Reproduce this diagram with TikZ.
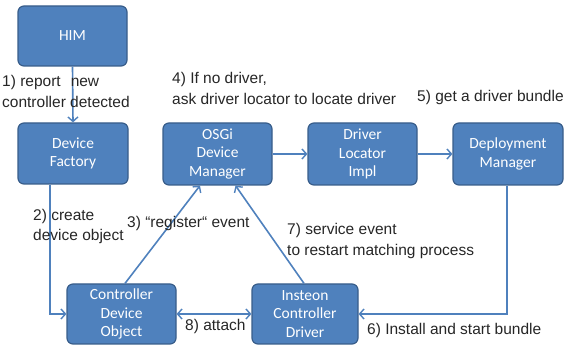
\documentclass[tikz,border=0pt]{standalone}
\usepackage{fontspec}
\setmainfont{Liberation Sans}
\newfontfamily\boxfont{Carlito}
\usetikzlibrary{arrows.meta,calc}
\definecolor{boxfill}{RGB}{79,129,189}
\definecolor{boxline}{RGB}{56,93,138}
\definecolor{conn}{RGB}{79,129,189}
\tikzset{
  blk/.style={draw=boxline, fill=boxfill, line width=1.2pt, rounded corners=6pt,
    text=white, font=\boxfont\fontsize{15.5}{18.5}\selectfont, align=center,
    inner sep=0pt},
  conn/.style={draw=conn, line width=1.6pt, -{Straight Barb[length=4.5pt,width=10pt,line width=1.4pt]}},
  lbl/.style={font=\fontsize{15.5}{20.5}\selectfont, align=left, anchor=west, inner sep=0pt, text=black!85}
}
\begin{document}
\begin{tikzpicture}[x=1pt,y=-1pt]
\useasboundingbox (0,0) rectangle (566,347);
% boxes
\node[blk, minimum width=109pt, minimum height=60pt] (him) at (72.5,36) {HIM};
\node[blk, minimum width=110pt, minimum height=61pt] (df) at (73,153.5) {Device\\Factory};
\node[blk, minimum width=109pt, minimum height=62pt] (osgi) at (217.5,154) {OSGi\\Device\\Manager};
\node[blk, minimum width=109pt, minimum height=62pt] (dli) at (362.5,154) {Driver\\Locator\\Impl};
\node[blk, minimum width=110pt, minimum height=62pt] (dm) at (508,154) {Deployment\\Manager};
\node[blk, minimum width=109pt, minimum height=60pt] (cdo) at (121.5,314) {Controller\\Device\\Object};
\node[blk, minimum width=106pt, minimum height=60pt] (icd) at (305,314) {Insteon\\Controller\\Driver};
% connectors
\coordinate (cl) at (50,314);
\coordinate (cr) at (507,314);
\draw[conn] (him.south) -- (df.north);
\draw[conn] (osgi.east) -- (dli.west);
\draw[conn] (dli.east) -- (dm.west);
\draw[conn] (cl |- df.south) -- (cl) -- (cdo.west);
\draw[conn] (cr |- dm.south) -- (cr) -- (icd.east);
\draw[conn, {Straight Barb[length=4.5pt,width=10pt,line width=1.4pt]}-{Straight Barb[length=4.5pt,width=10pt,line width=1.4pt]}] (cdo.east) -- (icd.west);
\draw[conn] ($(cdo.north)+(3.5,0)$) -- ($(osgi.south)+(-17.5,0)$);
\draw[conn] ($(icd.north)+(-1,0)$) -- ($(osgi.south)+(18,0)$);
% labels
\node[lbl] (l1) at (2,91.5) {1) report\hspace{10pt}new\\controller detected};
\node[lbl] (l4) at (172,88.5) {4) If no driver,\\ask driver locator to locate driver};
\node[lbl] (l5) at (417,97) {5) get a driver bundle};
\node[lbl] (l2) at (33,226.5) {2) create\\device object};
\node[lbl] (l3) at (127,223) {3) “register“ event};
\node[lbl] (l7) at (287,241) {7) service event\\to restart matching process};
\node[lbl] (l8) at (185,326) {8) attach};
\node[lbl] (l6) at (367,330) {6) Install and start bundle};
\end{tikzpicture}
\end{document}
